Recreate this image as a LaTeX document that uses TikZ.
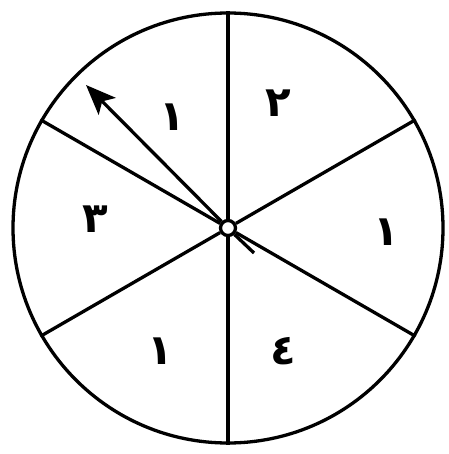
\documentclass[tikz,border=0pt]{standalone}
\usepackage{fontspec}
\newfontfamily\arabicfont[Script=Arabic]{DejaVu Sans}
\usetikzlibrary{arrows.meta}
\begin{document}
\begin{tikzpicture}[x=1pt,y=-1pt,
  ln/.style={line width=3.3pt},
  num/.style={font=\arabicfont\bfseries\fontsize{42}{42}\selectfont, inner sep=0pt}]
\useasboundingbox (0,0) rectangle (448,454);
\fill[white] (0,0) rectangle (448,454);
\coordinate (c) at (228,228);
\node[circle, draw, ln, minimum size=430pt, inner sep=0pt] (rim) at (c) {};
\node[circle, draw, ln, minimum size=15pt, inner sep=0pt, fill=white] (hub) at (c) {};
\foreach \a in {90,30,-30,-90,-150,150} {
  \draw[ln] (hub.\a) -- (rim.\a);
}
\coordinate (tail) at (254,253);
\coordinate (tip) at (86,85);
\draw[ln] (tail) -- (hub.-45);
\draw[ln, -{Stealth[length=30pt,width=24pt,inset=7pt]}] (hub.135) -- (tip);
\node[num] (n1) at (278,103) {٢};
\node[num] (n2) at (386,232) {١};
\node[num] (n3) at (283,351) {٤};
\node[num] (n4) at (160,351) {١};
\node[num] (n5) at (95,219) {٣};
\node[num] (n6) at (172,117) {١};
\end{tikzpicture}
\end{document}
